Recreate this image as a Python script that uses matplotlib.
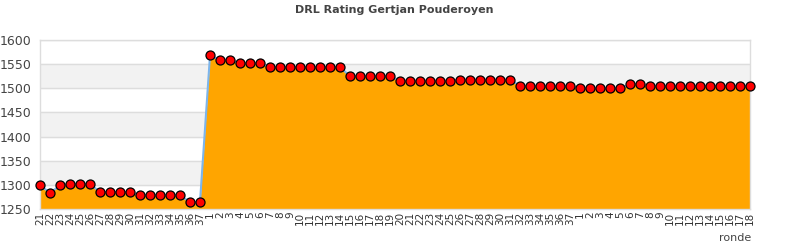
import matplotlib
matplotlib.use('Agg')
import matplotlib.pyplot as plt

TITLE = 'DRL Rating Gertjan Pouderoyen'

# rondes: seizoen 1 (21-37), seizoen 2 (1-37), seizoen 3 (1-18)
labels_s1 = [str(r) for r in range(21, 38)]
labels_s2 = [str(r) for r in range(1, 38)]
labels_s3 = [str(r) for r in range(1, 19)]

rating_s1 = [1300, 1283, 1299, 1302, 1302, 1302, 1285, 1285, 1285, 1285,
             1279, 1279, 1279, 1279, 1279, 1264, 1264]
rating_s2 = [1568, 1559, 1559, 1552, 1552, 1552, 1544, 1544, 1544, 1544,
             1544, 1544, 1544, 1544, 1525, 1525, 1525, 1525, 1525, 1516,
             1516, 1516, 1516, 1516, 1516, 1518, 1518, 1518, 1518, 1518,
             1518, 1505, 1505, 1505, 1505, 1505, 1505]
rating_s3 = [1500, 1500, 1500, 1500, 1500, 1508, 1509, 1505, 1505, 1505,
             1505, 1505, 1505, 1505, 1505, 1505, 1505, 1505]

labels = labels_s1 + labels_s2 + labels_s3
ratings = rating_s1 + rating_s2 + rating_s3
x = list(range(len(ratings)))

fig = plt.figure(figsize=(7.9, 2.5), dpi=100)
ax = fig.add_axes([40 / 790, 41 / 250, 710 / 790, 169 / 250])

ymin, ymax = 1250, 1600
# alternating bands
for lo in range(1300, 1600, 100):
    ax.axhspan(lo, lo + 50, color='#f2f2f2', zorder=0)
for v in range(1250, 1601, 50):
    ax.axhline(v, color='#dddddd', lw=1, zorder=1)

ax.fill_between(x, ratings, ymin, color='#ffa500', zorder=2, lw=0)
ax.plot(x, ratings, color='#7cb5ec', lw=1.5, zorder=3)
ax.plot(x, ratings, ls='none', marker='o', ms=6.5, mfc='#ff0000',
        mec='#000000', mew=0.9, zorder=4, clip_on=False)

ax.set_xlim(0, len(ratings) - 1)
ax.set_ylim(ymin, ymax)
ax.set_yticks(range(1250, 1601, 50))
ax.tick_params(axis='y', length=0, labelsize=9, labelcolor='#444444', pad=6)
ax.set_xticks(x)
ax.set_xticklabels(labels, rotation=90, fontsize=7.5, color='#333333')
ax.tick_params(axis='x', length=0, pad=2)

for side in ['left', 'top', 'right', 'bottom']:
    ax.spines[side].set_color('#dddddd')
    ax.spines[side].set_linewidth(1)

fig.text(394 / 790, 1 - 10 / 250, TITLE, ha='center', va='center',
         fontsize=8, fontweight='bold', color='#444444')
fig.text(735 / 790, 1 - 238 / 250, 'ronde', ha='center', va='center',
         fontsize=8, color='#444444')

fig.savefig('out.png', dpi=100)
